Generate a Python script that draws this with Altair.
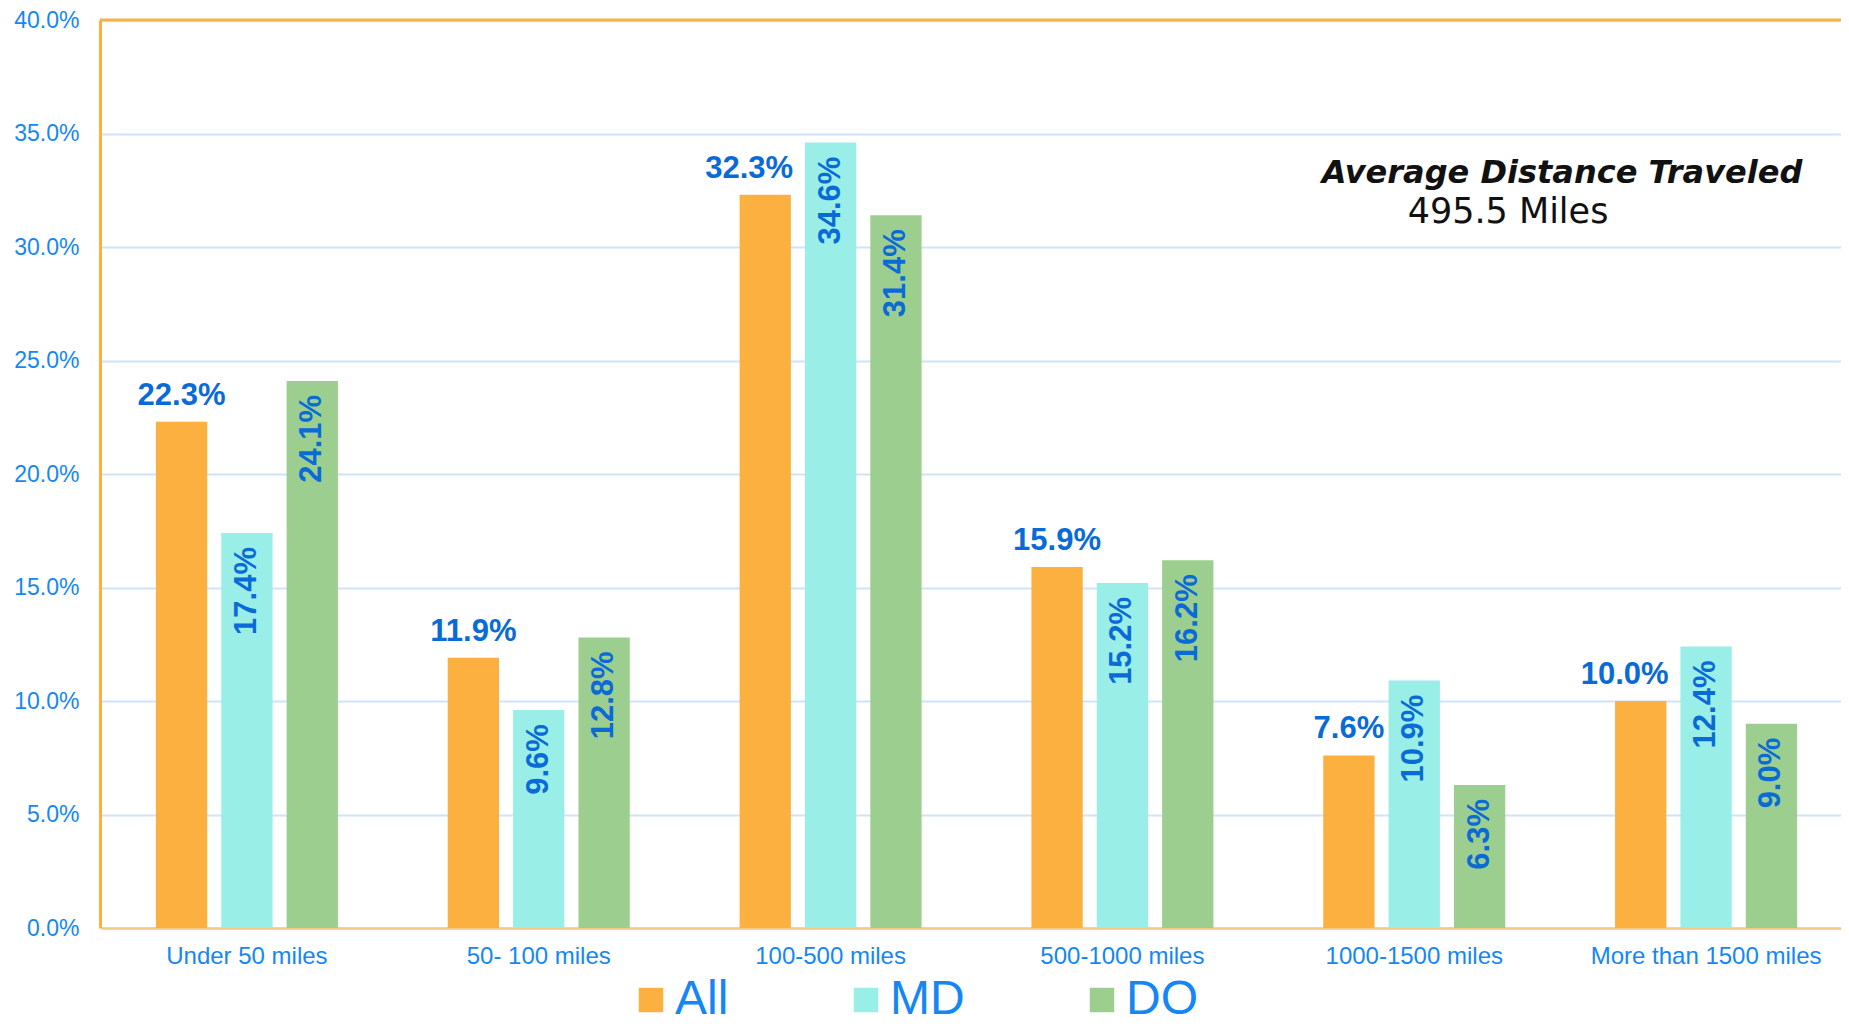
import altair as alt
import pandas as pd

categories = ["Under 50 miles", "50- 100 miles", "100-500 miles",
              "500-1000 miles", "1000-1500 miles", "More than 1500 miles"]
series_names = ["All", "MD", "DO"]
all_vals = [22.3, 11.9, 32.3, 15.9, 7.6, 10.0]
md_vals = [17.4, 9.6, 34.6, 15.2, 10.9, 12.4]
do_vals = [24.1, 12.8, 31.4, 16.2, 6.3, 9.0]
y_ticks = [0, 5, 10, 15, 20, 25, 30, 35, 40]
note_title = ["Average Distance Traveled"]
note_value = ["495.5 Miles"]

rows = []
for s, vals in zip(series_names, [all_vals, md_vals, do_vals]):
    for c, v, m in zip(categories, vals, md_vals):
        rows.append({"category": c, "series": s, "value": v, "md_value": m})
df = pd.DataFrame(rows)

W, H = 1741, 908
XR0, XR1 = 1, 1752
ORANGE = "#FBB040"
CYAN = "#99EEE8"
GREEN = "#9CCF8F"
AXIS_BLUE = "#1487f5"
LABEL_BLUE = "#0a6bd6"
SANS = "Liberation Sans, Arial, sans-serif"

x = alt.X("category:N", sort=categories,
          scale=alt.Scale(domain=categories, paddingInner=0, paddingOuter=0, range=[XR0, XR1]),
          axis=alt.Axis(title=None, labelAngle=0, labelFont=SANS, labelFontSize=24,
                        labelColor=AXIS_BLUE, ticks=False, labelPadding=16, labelLimit=0,
                        domainColor="#f6c88a", domainWidth=2.5))
xo = alt.XOffset("series:N", sort=series_names,
                 scale=alt.Scale(domain=series_names, paddingInner=0.215, paddingOuter=0.84))
y = alt.Y("value:Q", scale=alt.Scale(domain=[0, 40], nice=False, zero=True),
          axis=alt.Axis(title=None, values=y_ticks,
                        labelExpr="format(datum.value, '.1f') + '%'",
                        labelFont=SANS, labelFontSize=23, labelColor=AXIS_BLUE,
                        ticks=False, labelPadding=21, domainColor=ORANGE, domainWidth=3,
                        gridColor="#cfe4f8", gridWidth=2))
color = alt.Color("series:N", sort=series_names,
                  scale=alt.Scale(domain=series_names, range=[ORANGE, CYAN, GREEN]),
                  legend=alt.Legend(title=None, orient="none", legendX=527, legendY=956,
                                    direction="horizontal", symbolType="square",
                                    symbolSize=600, symbolStrokeWidth=0, symbolOpacity=1,
                                    labelFont=SANS, labelFontSize=48, labelColor=AXIS_BLUE,
                                    labelOffset=0, columnPadding=113))

base = alt.Chart(df)
bars = base.mark_bar().encode(x=x, xOffset=xo, y=y, color=color)

label_expr = "format(datum.value, '.1f') + '%'"
shift_test = "datum.md_value > datum.value && datum.value >= 10"

lab_all = base.transform_filter(
    f"datum.series == 'All' && !({shift_test})"
).transform_calculate(label=label_expr).mark_text(
    font=SANS, fontWeight="bold", fontSize=31, color=LABEL_BLUE,
    baseline="alphabetic", align="center", dy=-17).encode(
    x=x, xOffset=xo, y=y, text="label:N")

lab_all_shift = base.transform_filter(
    f"datum.series == 'All' && ({shift_test})"
).transform_calculate(label=label_expr).mark_text(
    font=SANS, fontWeight="bold", fontSize=31, color=LABEL_BLUE,
    baseline="alphabetic", align="center", dy=-17, dx=-16).encode(
    x=x, xOffset=xo, y=y, text="label:N")

lab_rot = base.transform_filter("datum.series != 'All'").transform_calculate(
    label=label_expr
).mark_text(font=SANS, fontWeight="bold", fontSize=31, color=LABEL_BLUE,
            angle=270, align="right", baseline="middle", dx=-14).encode(
    x=x, xOffset=xo, y=y, text="label:N")

note_df = pd.DataFrame({"title": note_title, "value": note_value})
top_rule = alt.Chart(note_df).mark_rule(color=ORANGE, strokeWidth=3).encode(
    y=alt.value(0), x=alt.value(0), x2=alt.value(XR1))
note1 = alt.Chart(note_df).mark_text(font="DejaVu Sans", fontStyle="italic", fontWeight="bold",
                                     fontSize=32, color="#111111", align="center",
                                     baseline="alphabetic").encode(
    x=alt.value(1462), y=alt.value(163), text="title:N")
note2 = alt.Chart(note_df).mark_text(font="DejaVu Sans", fontSize=35, color="#111111",
                                     align="center", baseline="alphabetic").encode(
    x=alt.value(1408), y=alt.value(203), text="value:N")

chart = alt.layer(bars, lab_all, lab_all_shift, lab_rot, top_rule, note1, note2).properties(
    width=W, height=H,
    padding={"left": 92, "top": 12, "right": 0, "bottom": 100},
    autosize=alt.AutoSizeParams(type="none"),
    background="white",
).configure_view(strokeWidth=0)

chart.save("out.html", embed_options={"renderer": "svg", "actions": False})
